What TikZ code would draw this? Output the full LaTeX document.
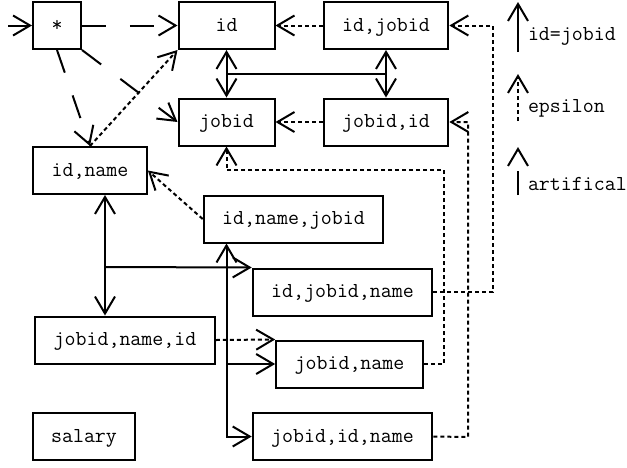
\documentclass[tikz,border=0pt]{standalone}
\usetikzlibrary{arrows.meta}
\tikzstyle{block}=[draw,fill=white,rectangle,minimum height=47pt,inner xsep=18.5pt,text height=14pt,text depth=3pt]
\tikzstyle{every node}=[font=\fontsize{21.3}{25}\selectfont]
\tikzstyle{eps}=[dash pattern=on 4pt off 3pt]
\tikzstyle{artificial}=[dash pattern=on 24pt off 24pt]
\tikzstyle{legend}=[anchor=base west,inner sep=0pt]
\newcommand{\attrs}[1]{\mbox{\texttt{#1}}}

\begin{document}
\begin{tikzpicture}[x=1pt,y=1pt,>={Straight Barb[length=17pt,width=20pt]},line width=2pt]
  \useasboundingbox (0,0) rectangle (627,-467);
  % top rows
  \node[block, minimum width=47pt] (star) at (57,-25.5) {\attrs{*}};
  \node[block, minimum width=96pt, right of=star, node distance=169.5pt] (id) {\attrs{id}};
  \node[block, right of=id, node distance=159.5pt] (idjobid) {\attrs{id,jobid}};
  \node[block, minimum width=96pt, below of=id, node distance=96.5pt] (jobid) {\attrs{jobid}};
  \node[block, below of=idjobid, node distance=96.5pt] (jobidid) {\attrs{jobid,id}};
  % lower part
  \node[block] (idname) at (90,-170.5) {\attrs{id,name}};
  \node[block] (idnamejobid) at (293.5,-219) {\attrs{id,name,jobid}};
  \node[block] (idjobidname) at (342.5,-292) {\attrs{id,jobid,name}};
  \node[block] (jobidnameid) at (125,-340) {\attrs{jobid,name,id}};
  \node[block] (jobidname) at (349.5,-364) {\attrs{jobid,name}};
  \node[block, below of=idjobidname, node distance=144.5pt] (jobididname) {\attrs{jobid,id,name}};
  \node[block] (salary) at (84,-436.5) {\attrs{salary}};

  \coordinate (src) at (8,-25.5);
  \draw[->] (src) -- (star);
  \draw[->,artificial] (star) -- (id);
  \draw[->,artificial] (star.south) -- (idname.north);
  \draw[->,artificial] (star.south east) -- (jobid.west);
  \draw[->,eps] (idname.north) -- (id.south west);
  \draw[->,eps] (idjobid) -- (id);
  \draw[->,eps] (jobidid) -- (jobid);
  \draw[<->] (id) -- coordinate (m1) (jobid);
  \draw[<->] (idjobid) -- coordinate (m2) (jobidid);
  \draw (m1) -- (m2);

  \coordinate (h1) at (105,-267);
  \coordinate (h2) at (226.5,-364);
  \draw[<->] (idname.south -| h1) -- (jobidnameid.north -| h1);
  \draw[->] (h1) -- (idjobidname.north west);
  \draw[<->] (idnamejobid.south -| h2) |- (jobididname.west);
  \draw[->] (h2) -- (jobidname.west);
  \draw[->,eps] (idnamejobid.west) -- (idname.east);
  \draw[->,eps] (jobidnameid.east) -- (jobidname.north west);

  \coordinate (d1) at (444,-170);
  \coordinate (d2) at (468,-437);
  \coordinate (d3) at (493,-292);
  \draw[->,eps] (jobidname.east) -| (d1) -| (jobid.south);
  \draw[->,eps] (jobididname.east) -- (d2) |- (jobidid.east);
  \draw[->,eps] (idjobidname.east) -- (d3) |- (idjobid.east);

  % legend
  \coordinate (k1a) at (518,-52);
  \coordinate (k1b) at (518,-2);
  \coordinate (k2a) at (518,-121);
  \coordinate (k2b) at (518,-74);
  \coordinate (k3a) at (518,-195);
  \coordinate (k3b) at (518,-147);
  \draw[->] (k1a) -- (k1b);
  \draw[->,eps] (k2a) -- (k2b);
  \draw[->,artificial] (k3a) -- (k3b);
  \node[legend] (lid) at (527,-40) {\attrs{id=jobid}};
  \node[legend] (leps) at (527,-112) {\attrs{epsilon}};
  \node[legend] (lart) at (527,-190) {\attrs{artifical}};
\end{tikzpicture}
\end{document}
